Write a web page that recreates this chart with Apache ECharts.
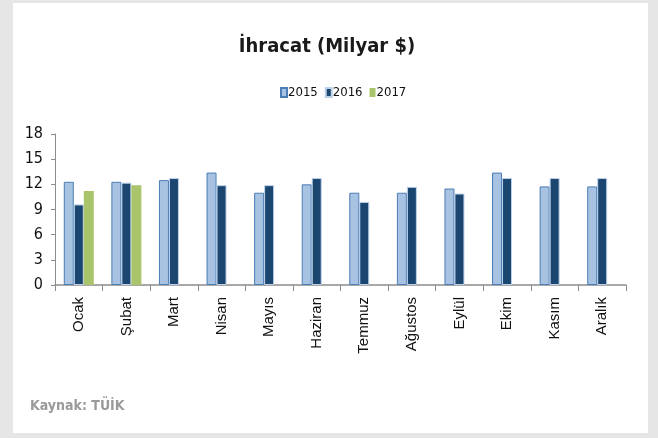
<!DOCTYPE html>
<html>
<head>
<meta charset="utf-8">
<script src="https://cdn.jsdelivr.net/npm/echarts@6/dist/echarts.min.js"></script>
<style>
  html, body { margin: 0; padding: 0; background: #e6e6e6; }
  #chart { width: 658px; height: 438px; }
</style>
</head>
<body>
<div id="chart"></div>
<script>
// aylar
var months = ['Ocak', 'Şubat', 'Mart', 'Nisan', 'Mayıs', 'Haziran', 'Temmuz', 'Ağustos', 'Eylül', 'Ekim', 'Kasım', 'Aralık'];
var years = ['2015', '2016', '2017'];
var exp2015 = [12.3, 12.3, 12.5, 13.4, 11.0, 12.0, 11.0, 11.0, 11.5, 13.4, 11.75, 11.75];
var exp2016 = [9.6, 12.2, 12.75, 11.9, 11.9, 12.75, 9.9, 11.7, 10.9, 12.75, 12.75, 12.75];
var exp2017 = [11.2, 11.9, null, null, null, null, null, null, null, null, null, null];
var yTicks = [0, 3, 6, 9, 12, 15, 18];

var narrow = '"DejaVu Sans Condensed", "Liberation Sans Narrow", sans-serif';

var chart = echarts.init(document.getElementById('chart'));
var option = {
  backgroundColor: '#e6e6e6',
  animation: false,
  graphic: [
    { type: 'rect', z: -10, shape: { x: 13, y: 3, width: 635, height: 430 }, style: { fill: '#ffffff' } },
    { type: 'text', left: 30, top: 399, style: { text: 'Kaynak: TÜİK', fill: '#9a9a9a', font: 'bold 14px ' + narrow } }
  ],
  title: {
    text: 'İhracat (Milyar $)',
    left: 322, textAlign: 'center', top: 32,
    textStyle: { fontFamily: narrow, fontWeight: 'bold', fontSize: 20, color: '#1a1a1a' }
  },
  legend: {
    data: years,
    left: 275, top: 81,
    itemWidth: 6, itemHeight: 9, itemGap: 7,
    icon: 'rect',
    textStyle: { fontFamily: narrow, fontSize: 13, color: '#111', padding: [0, 0, 0, -4] }
  },
  grid: { left: 55, right: 32, top: 134, bottom: 153 },
  xAxis: {
    type: 'category',
    data: months,
    axisLine: { lineStyle: { color: '#8c8c8c', width: 1.5 } },
    axisTick: { show: true, alignWithLabel: false, length: 6, lineStyle: { color: '#8c8c8c' } },
    axisLabel: { rotate: 90, margin: 12, fontFamily: 'Liberation Sans, Arial, sans-serif', fontSize: 15, color: '#111', interval: 0 }
  },
  yAxis: {
    type: 'value',
    min: 0, max: 18, interval: 3,
    splitLine: { show: false },
    axisLine: { show: true, lineStyle: { color: '#8c8c8c' } },
    axisTick: { show: true, length: 4, lineStyle: { color: '#8c8c8c' } },
    axisLabel: {
      margin: 12, fontFamily: narrow, fontSize: 16, color: '#111',
      formatter: function (v) { return yTicks.indexOf(v) >= 0 ? String(v) : ''; }
    }
  },
  series: [
    { name: '2015', type: 'bar', data: exp2015, barWidth: 10, barGap: '0%',
      itemStyle: { color: '#a7c3e1', borderColor: '#4b7db6', borderWidth: 1 } },
    { name: '2016', type: 'bar', data: exp2016, barWidth: 10,
      itemStyle: { color: '#1b4670', borderColor: '#bdd2ea', borderWidth: 1 } },
    { name: '2017', type: 'bar', data: exp2017, barWidth: 10,
      itemStyle: { color: '#a9c46b' } }
  ]
};
chart.setOption(option);
</script>
</body>
</html>
